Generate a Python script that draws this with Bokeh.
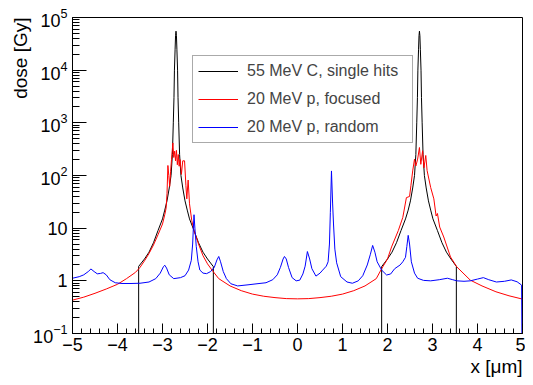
from bokeh.plotting import figure
from bokeh.models import FixedTicker, Legend, LegendItem, Title, LogTickFormatter
from bokeh.embed import file_html
from bokeh.resources import INLINE

# ---- data ----
black_left_x = [-3.53, -3.53, -3.4, -3.3, -3.2, -3.1, -3.0, -2.95, -2.9, -2.85, -2.81, -2.78,
                -2.76, -2.745, -2.735, -2.72, -2.71, -2.70, -2.69, -2.68, -2.665, -2.655,
                -2.64, -2.62, -2.59, -2.55, -2.5, -2.45, -2.4, -2.3, -2.2, -2.1, -2.0, -1.87, -1.87]
black_left_y = [0.001, 1.88, 2.6, 3.5, 5.3, 9, 15, 22, 33, 58, 100, 250,
                1000, 3000, 10000, 25000, 45000, 55000, 45000, 25000, 10000, 3000,
                1000, 250, 100, 58, 33, 22, 15, 9, 5.3, 3.5, 2.6, 1.86, 0.001]

black_right_x = [1.87, 1.87, 2.0, 2.1, 2.2, 2.3, 2.4, 2.46, 2.51, 2.56, 2.6, 2.63,
                 2.65, 2.665, 2.675, 2.69, 2.70, 2.71, 2.72, 2.73, 2.745, 2.755,
                 2.77, 2.79, 2.82, 2.86, 2.91, 2.96, 3.01, 3.11, 3.21, 3.31, 3.41, 3.53, 3.53]
black_right_y = [0.001, 1.86, 2.6, 3.5, 5.3, 9, 15, 22, 33, 58, 100, 250,
                 1000, 3000, 10000, 25000, 45000, 55000, 45000, 25000, 10000, 3000,
                 1000, 250, 100, 58, 33, 22, 15, 9, 5.3, 3.5, 2.6, 1.88, 0.001]

red_x = [-5.0, -4.75, -4.5, -4.25, -4.0, -3.8, -3.6, -3.5, -3.4, -3.3, -3.2, -3.1, -3.0,
         -2.95, -2.92, -2.9, -2.88, -2.86, -2.84, -2.82, -2.8, -2.77, -2.75, -2.73, -2.71,
         -2.69, -2.67, -2.65, -2.63, -2.61, -2.58, -2.55, -2.51, -2.48, -2.46, -2.43, -2.40,
         -2.35, -2.3, -2.2, -2.1, -2.0, -1.9, -1.75, -1.5, -1.25, -1.0, -0.75, -0.5, -0.25,
         0.0, 0.25, 0.5, 0.75, 1.0, 1.25, 1.5, 1.75, 1.87, 2.0, 2.09, 2.24, 2.34, 2.42,
         2.49, 2.52, 2.56, 2.60, 2.63, 2.67, 2.71, 2.74, 2.78, 2.81, 2.85, 2.88, 2.96,
         3.03, 3.08, 3.11, 3.16, 3.25, 3.40, 3.54, 3.84, 4.1, 4.41, 4.7, 5.0]
red_y = [0.43, 0.49, 0.58, 0.7, 0.86, 1.1, 1.45, 1.8, 2.4, 3.3, 4.8, 7.5, 12,
         18, 24, 45, 155, 100, 62, 120, 200, 415, 220, 290, 190,
         300, 160, 250, 150, 200, 105, 190, 190, 65, 36, 82, 29,
         14, 9, 5, 3.0, 2.1, 1.6, 1.1, 0.8, 0.65, 0.56, 0.51, 0.48, 0.46,
         0.455, 0.46, 0.48, 0.51, 0.56, 0.65, 0.8, 1.1, 1.7, 2.6, 4.4, 9.0, 16, 38,
         40, 64, 122, 205, 152, 205, 340, 163, 295, 140, 240, 124, 59,
         36, 17, 19, 10.5, 6.8, 2.84, 1.84, 1.03, 0.8, 0.62, 0.52, 0.45]

blue_x = [-5.0, -4.85, -4.75, -4.65, -4.59, -4.52, -4.45, -4.38, -4.32, -4.25, -4.17, -4.05,
          -3.9, -3.7, -3.5, -3.3, -3.15, -3.05, -2.98, -2.95, -2.91, -2.85, -2.75, -2.6,
          -2.5, -2.42, -2.36, -2.33, -2.31, -2.30, -2.28, -2.25, -2.21, -2.17, -2.1, -2.02,
          -1.93, -1.85, -1.79, -1.75, -1.71, -1.65, -1.58, -1.48, -1.33, -1.1, -0.9, -0.7,
          -0.55, -0.45, -0.38, -0.32, -0.29, -0.25, -0.2, -0.12, -0.03, 0.05, 0.12, 0.17,
          0.22, 0.27, 0.32, 0.41, 0.5, 0.56, 0.64, 0.68, 0.71, 0.73, 0.755, 0.78, 0.80,
          0.83, 0.87, 0.96, 1.1, 1.22, 1.35, 1.45, 1.55, 1.62, 1.67, 1.72, 1.77, 1.87,
          1.98, 2.07, 2.16, 2.28, 2.34, 2.40, 2.43, 2.46, 2.49, 2.53, 2.6, 2.67, 2.8,
          2.96, 3.15, 3.33, 3.45, 3.54, 3.7, 3.84, 4.0, 4.13, 4.25, 4.42, 4.6, 4.75,
          4.88, 4.98, 5.0]
blue_y = [1.12, 1.2, 1.3, 1.5, 1.68, 1.5, 1.36, 1.38, 1.43, 1.3, 1.05, 0.92,
          0.89, 0.89, 0.9, 0.95, 1.1, 1.4, 1.85, 1.98, 1.75, 1.3, 1.1, 1.15,
          1.25, 1.6, 2.45, 5, 12, 18, 10, 4.5, 2.3, 1.6, 1.4, 1.37,
          1.5, 1.8, 2.5, 2.9, 2.3, 1.5, 1.1, 0.88, 0.8, 0.84, 0.88, 0.92,
          1.05, 1.3, 1.8, 2.6, 2.9, 2.6, 1.8, 1.15, 1.0, 1.03, 1.35, 1.9,
          3.6, 2.6, 1.7, 1.23, 1.4, 1.6, 1.9, 2.3, 5, 20, 122, 30, 12,
          4, 2.2, 1.2, 0.95, 0.9, 1.0, 1.25, 2.0, 3.2, 4.7, 3.5, 2.3, 1.6,
          1.29, 1.35, 1.7, 2.0, 2.3, 2.8, 4.5, 7.3, 5, 2.3, 1.4, 1.12, 1.02,
          1.0, 1.05, 1.12, 1.05, 1.0, 0.98, 1.0, 1.08, 1.15, 1.05, 0.95, 0.98, 1.04,
          0.96, 0.83, 0.001]

labels = ["55 MeV C, single hits", "20 MeV p, focused", "20 MeV p, random"]
x_ticks = [-5, -4, -3, -2, -1, 0, 1, 2, 3, 4, 5]
y_ticks = [0.1, 1, 10, 100, 1000, 10000, 100000]

FONT = "Liberation Sans"

p = figure(width=525, height=377, x_range=(-5, 5), y_range=(0.1, 1e5),
           y_axis_type="log", output_backend="svg", toolbar_location=None,
           title=None, min_border_left=72, min_border_right=3,
           min_border_top=17, min_border_bottom=44)
p.background_fill_color = "white"
p.border_fill_color = "white"
p.outline_line_color = "black"
p.outline_line_width = 1
p.xgrid.visible = False
p.ygrid.visible = False

# x axis
x_minor = [round(-5 + 0.2 * i, 2) for i in range(51) if i % 5 != 0]
p.xaxis.ticker = FixedTicker(ticks=x_ticks, minor_ticks=x_minor)
p.xaxis.major_tick_in = 10
p.xaxis.major_tick_out = 0
p.xaxis.minor_tick_in = 5
p.xaxis.minor_tick_out = 0
p.xaxis.major_label_standoff = 4

# y axis
y_minor = [m * 10.0 ** e for e in range(-1, 5) for m in range(2, 10)]
p.yaxis.ticker = FixedTicker(ticks=y_ticks, minor_ticks=y_minor)
p.yaxis.formatter = LogTickFormatter()
p.yaxis.major_label_overrides = {1: "1", 10: "10"}
p.yaxis.major_tick_in = 14
p.yaxis.major_tick_out = 0
p.yaxis.minor_tick_in = 7
p.yaxis.minor_tick_out = 0
p.yaxis.major_label_standoff = 5

for ax in (p.xaxis, p.yaxis):
    ax.axis_line_color = "black"
    ax.major_tick_line_color = "black"
    ax.minor_tick_line_color = "black"
    ax.major_label_text_font = FONT
    ax.major_label_text_font_size = "18px"
    ax.major_label_text_color = "black"

p.add_layout(Title(text="x [\u03bcm]", align="right", text_font=FONT, text_color="black",
                   text_font_size="19px", text_font_style="normal", standoff=0), "below")
p.add_layout(Title(text="dose [Gy]", align="right", text_font=FONT, text_color="black",
                   text_font_size="19px", text_font_style="normal", standoff=0), "left")

r_bl = p.line(black_left_x, black_left_y, line_color="black", line_width=1)
r_br = p.line(black_right_x, black_right_y, line_color="black", line_width=1)
r_red = p.line(red_x, red_y, line_color="#ff0000", line_width=1)
r_blue = p.line(blue_x, blue_y, line_color="#0000ff", line_width=1)

legend = Legend(items=[LegendItem(label=labels[0], renderers=[r_bl]),
                       LegendItem(label=labels[1], renderers=[r_red]),
                       LegendItem(label=labels[2], renderers=[r_blue])],
                location=(120, 190), margin=0, padding=5, spacing=8,
                glyph_width=40, glyph_height=20, label_height=20, label_width=160,
                label_standoff=9, label_text_font=FONT, label_text_font_size="16px",
                border_line_color="#555555", border_line_width=1,
                background_fill_color="white", background_fill_alpha=1.0)
p.add_layout(legend)

open("out.html", "w").write(file_html(p, INLINE))
